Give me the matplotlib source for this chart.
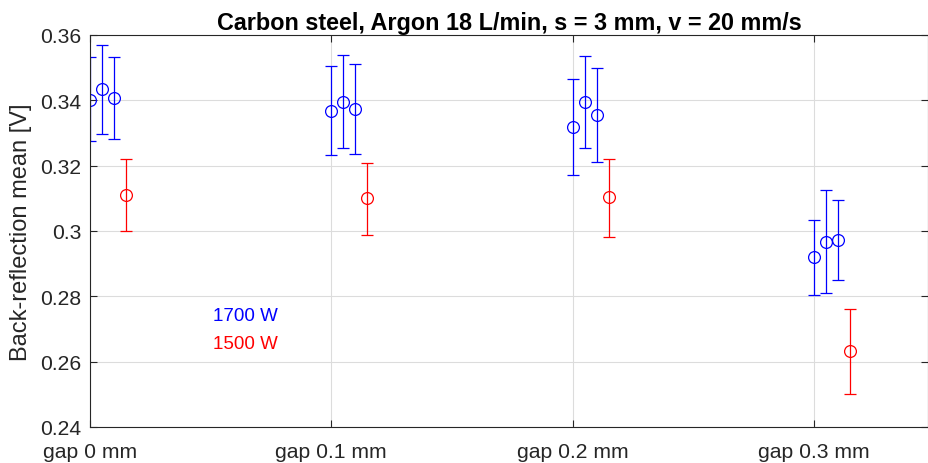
import matplotlib
matplotlib.use("Agg")
import matplotlib.pyplot as plt
import numpy as np

plt.rcParams['font.family'] = ['Liberation Sans', 'DejaVu Sans']

categories = ["gap 0 mm", "gap 0.1 mm", "gap 0.2 mm", "gap 0.3 mm"]
offsets_1700 = [0.0, 0.05, 0.10]
offset_1500 = 0.15

# 1700 W: three runs per gap (mean, upper, lower)
mean_1700 = [[0.3402, 0.3434, 0.3407],
             [0.3368, 0.3396, 0.3373],
             [0.3319, 0.3396, 0.3355],
             [0.2919, 0.2965, 0.2973]]
upper_1700 = [[0.3532, 0.3570, 0.3534],
              [0.3504, 0.3539, 0.3510],
              [0.3464, 0.3536, 0.3498],
              [0.3035, 0.3125, 0.3094]]
lower_1700 = [[0.3275, 0.3298, 0.3282],
              [0.3233, 0.3253, 0.3235],
              [0.3172, 0.3254, 0.3210],
              [0.2803, 0.2809, 0.2851]]

# 1500 W: one run per gap
mean_1500 = [0.3110, 0.3100, 0.3104, 0.2632]
upper_1500 = [0.3220, 0.3208, 0.3220, 0.2762]
lower_1500 = [0.2999, 0.2989, 0.2983, 0.2501]

W, H = 929, 464
fig = plt.figure(figsize=(W / 100, H / 100), dpi=100)
ax = fig.add_axes([90 / W, (H - 428) / H, (928.5 - 90) / W, (428 - 36) / H])

gx = np.arange(1, len(categories) + 1)
ekw = dict(fmt='o', mfc='none', ms=8.5, mew=0.9, lw=0.9, capsize=4.3, capthick=0.9)
for i, g in enumerate(gx):
    for j, off in enumerate(offsets_1700):
        m = mean_1700[i][j]
        ax.errorbar(g + off, m, yerr=[[m - lower_1700[i][j]], [upper_1700[i][j] - m]],
                    color='#0000ff', mec='#0000ff', **ekw)
    m = mean_1500[i]
    ax.errorbar(g + offset_1500, m, yerr=[[m - lower_1500[i]], [upper_1500[i] - m]],
                color='#ff0000', mec='#ff0000', **ekw)

ax.set_xlim(1, 4.475)
ax.set_ylim(0.24, 0.36)
ax.set_xticks(gx)
ax.set_xticklabels(categories)
ax.set_yticks(np.arange(0.24, 0.3601, 0.02))
ax.set_yticklabels(['0.24', '0.26', '0.28', '0.3', '0.32', '0.34', '0.36'])

ax.grid(True, color='#dcdcdc', lw=0.8)
ax.set_axisbelow(True)
for s in ax.spines.values():
    s.set_color('#262626')
    s.set_linewidth(0.8)
ax.tick_params(direction='in', top=True, right=True, length=5, width=0.8,
               colors='#262626', labelsize=15.2, labelcolor='#262626')
ax.tick_params(axis='x', pad=11)
ax.tick_params(axis='y', pad=6)

ax.set_ylabel('Back-reflection mean [V]', fontsize=17, color='#262626', labelpad=6)
ax.set_title('Carbon steel, Argon 18 L/min, s = 3 mm, v = 20 mm/s',
             fontsize=16.8, fontweight='bold', pad=4)

ax.text(1.508, 0.274, '1700 W', color='#0000ff', fontsize=13.5, va='center', ha='left')
ax.text(1.508, 0.2655, '1500 W', color='#ff0000', fontsize=13.5, va='center', ha='left')

fig.savefig('out.png', dpi=100)
